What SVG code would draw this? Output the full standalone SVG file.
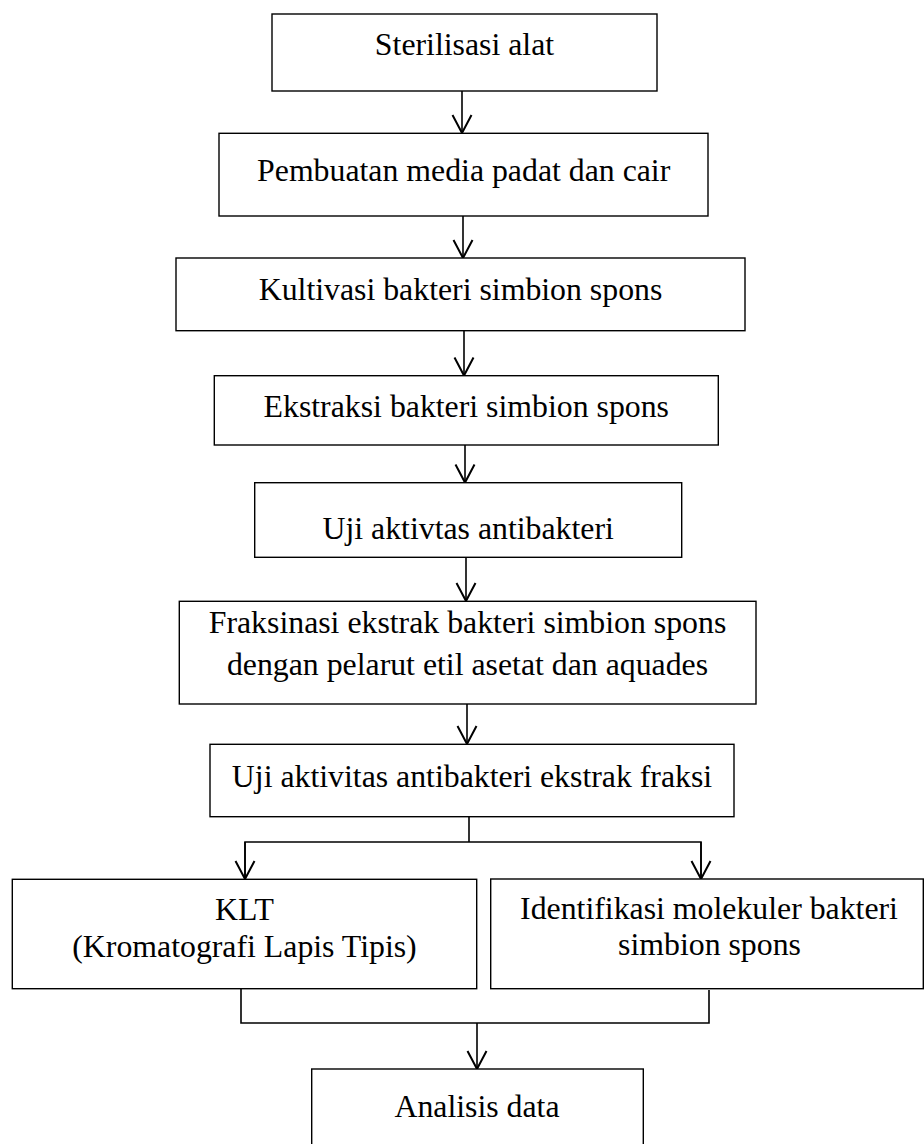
<svg xmlns="http://www.w3.org/2000/svg" width="924" height="1144" viewBox="0 0 924 1144">
<style>
.box{fill:#fff;stroke:#000;stroke-width:1.4}
.t{font-family:"Liberation Serif","Times New Roman",serif;font-size:31.8px;fill:#000;text-anchor:middle}
.c{fill:none;stroke:#000;stroke-width:1.6}
</style>
<defs>
<marker id="arr" viewBox="0 0 22 22" refX="20" refY="11" markerWidth="22" markerHeight="22" markerUnits="userSpaceOnUse" orient="auto">
<path d="M2,1.5 L20,11 L2,20.5" fill="none" stroke="#000" stroke-width="2"/>
</marker>
</defs>
<rect width="924" height="1144" fill="#fff"/>
<g id="connectors">
<line class="c" x1="462" y1="91" x2="462" y2="133" marker-end="url(#arr)"/>
<line class="c" x1="463" y1="216" x2="463" y2="258" marker-end="url(#arr)"/>
<line class="c" x1="464" y1="331" x2="464" y2="375.5" marker-end="url(#arr)"/>
<line class="c" x1="465" y1="445" x2="465" y2="482.5" marker-end="url(#arr)"/>
<line class="c" x1="466" y1="557" x2="466" y2="601" marker-end="url(#arr)"/>
<line class="c" x1="467" y1="704" x2="467" y2="744" marker-end="url(#arr)"/>
<polyline class="c" points="469,817 469,842"/>
<polyline class="c" points="245,879 245,842 701,842 701,879"/>
<line class="c" x1="245" y1="842" x2="245" y2="879" marker-end="url(#arr)"/>
<line class="c" x1="701" y1="842" x2="701" y2="879" marker-end="url(#arr)"/>
<polyline class="c" points="241,989 241,1023 709,1023 709,990"/>
<line class="c" x1="477" y1="1023" x2="477" y2="1069" marker-end="url(#arr)"/>
</g>
<g id="n1"><rect class="box" x="272" y="14" width="385" height="77"/><text class="t" x="464.5" y="55">Sterilisasi alat</text></g>
<g id="n2"><rect class="box" x="219" y="133.3" width="489" height="82.7"/><text class="t" x="463.7" y="181">Pembuatan media padat dan cair</text></g>
<g id="n3"><rect class="box" x="176" y="258" width="569" height="72.7"/><text class="t" x="460.5" y="300">Kultivasi bakteri simbion spons</text></g>
<g id="n4"><rect class="box" x="214.3" y="375.7" width="504" height="69.3"/><text class="t" x="466.3" y="417">Ekstraksi bakteri simbion spons</text></g>
<g id="n5"><rect class="box" x="254.7" y="482.7" width="427" height="74.6"/><text class="t" x="468.2" y="539">Uji aktivtas antibakteri</text></g>
<g id="n6"><rect class="box" x="179.3" y="601.3" width="576.7" height="102.7"/><text class="t" x="467.5" y="633.3">Fraksinasi ekstrak bakteri simbion spons</text><text class="t" x="467.5" y="675">dengan pelarut etil asetat dan aquades</text></g>
<g id="n7"><rect class="box" x="210" y="744.3" width="524" height="72.4"/><text class="t" x="472" y="787">Uji aktivitas antibakteri ekstrak fraksi</text></g>
<g id="n8"><rect class="box" x="12.3" y="879.3" width="464.4" height="109.4"/><text class="t" x="244.5" y="920">KLT</text><text class="t" x="244.5" y="956.7">(Kromatografi Lapis Tipis)</text></g>
<g id="n9"><rect class="box" x="490.7" y="879" width="432.6" height="109.7"/><text class="t" x="709" y="919.3">Identifikasi molekuler bakteri</text><text class="t" x="709.5" y="955">simbion spons</text></g>
<g id="n10"><rect class="box" x="311.7" y="1069" width="331.6" height="90"/><text class="t" x="477" y="1117.3">Analisis data</text></g>
</svg>
